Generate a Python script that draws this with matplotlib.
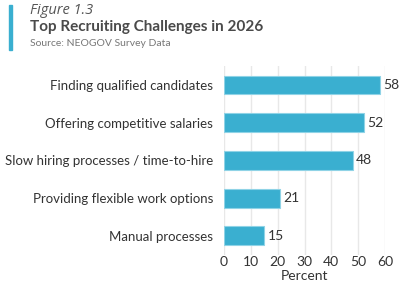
import matplotlib
matplotlib.use('Agg')
import matplotlib.pyplot as plt
from matplotlib.patches import Rectangle

plt.rcParams['font.family'] = ['Lato', 'DejaVu Sans']

labels = ['Finding qualified candidates', 'Offering competitive salaries',
          'Slow hiring processes / time-to-hire', 'Providing flexible work options',
          'Manual processes']
values = [58, 52, 48, 21, 15]
ticks = [0, 10, 20, 30, 40, 50, 60]

fig = plt.figure(figsize=(4, 2.84), dpi=100)
ax = fig.add_axes([0.56, 0.103, 0.4025, 0.664])

y = list(range(len(labels)))
ax.barh(y, values, height=0.5, color='#3aafd0', edgecolor='#8fd3e6', linewidth=0.8, zorder=3)
for yi, v in zip(y, values):
    ax.text(v + 1.2, yi, str(v), va='center', ha='left', fontsize=10, color='#333333')

ax.set_yticks(y)
ax.set_yticklabels(labels, fontsize=9.5, color='#333333')
ax.set_ylim(len(labels) - 0.5, -0.5)
ax.set_xlim(0, 60)
ax.set_xticks(ticks)
ax.set_xticklabels([str(t) for t in ticks], fontsize=10, color='#333333')
ax.set_xlabel('Percent', fontsize=10, color='#333333', labelpad=1)
ax.tick_params(length=0, pad=1)
ax.tick_params(axis='y', pad=8)
ax.grid(axis='x', color='#e8e8e8', linewidth=1, zorder=0)
for s in ax.spines.values():
    s.set_visible(False)

fig.patches.append(Rectangle((9 / 400, 1 - 50 / 284), 3 / 400, 45 / 284,
                             transform=fig.transFigure, color='#3aafd0'))
fig.text(30 / 400, 1 - 11 / 284, 'Figure 1.3', fontsize=10.5, style='italic',
         family=['Open Sans', 'DejaVu Sans'], color='#555555', va='center')
fig.text(30 / 400, 1 - 27 / 284, 'Top Recruiting Challenges in 2026', fontsize=11,
         weight='bold', color='#4a4a4a', va='center')
fig.text(30 / 400, 1 - 43 / 284, 'Source: NEOGOV Survey Data', fontsize=7.5,
         color='#777777', va='center')

fig.savefig('out.png', dpi=100)
